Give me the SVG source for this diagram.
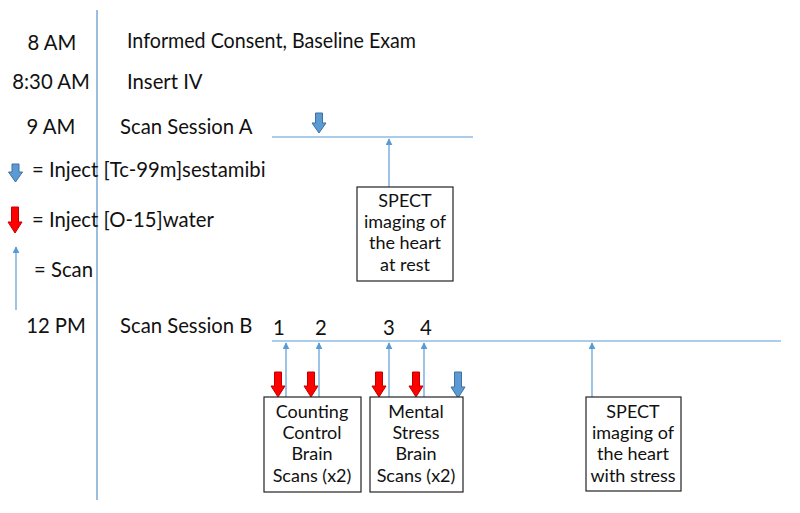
<svg xmlns="http://www.w3.org/2000/svg" width="800" height="513" viewBox="0 0 800 513">
<style>
text{font-family:Lato,"Liberation Sans",sans-serif;font-size:20.3px;fill:#111}
.c{text-anchor:middle}
.bt{font-size:18px}
.tl{stroke:#5B9BD5;stroke-width:1.2;fill:none}
.scan{stroke:#5B9BD5;stroke-width:1.2;fill:none;marker-end:url(#ah)}
.blue{fill:#5B9BD5;stroke:#41719C;stroke-width:1}
.red{fill:#FF0000;stroke:#C00000;stroke-width:1}
.box{fill:#fff;stroke:#222;stroke-width:1.2}
</style>
<defs>
<marker id="ah" viewBox="0 0 10 10" refX="9" refY="5" markerWidth="7" markerHeight="7" markerUnits="userSpaceOnUse" orient="auto">
<path d="M0,0 L10,5 L0,10 Z" fill="#5B9BD5"/>
</marker>
</defs>
<rect width="800" height="513" fill="#fff"/>
<g id="axis"><line x1="97" y1="10" x2="97" y2="500" stroke="#9DBDDF" stroke-width="2"/></g>
<g id="times">
<text x="52" y="50" class="c">8 AM</text>
<text x="51" y="89" class="c">8:30 AM</text>
<text x="51" y="134" class="c">9 AM</text>
<text x="56" y="333" class="c">12 PM</text>
</g>
<g id="events">
<text x="127" y="48" textLength="289" lengthAdjust="spacingAndGlyphs">Informed Consent, Baseline Exam</text>
<text x="127" y="89">Insert IV</text>
<text x="120" y="134">Scan Session A</text>
<text x="120" y="333">Scan Session B</text>
</g>
<g id="legend">
<path class="blue" d="M12,164 H19 V172 H22.5 L15.5,182 L8.5,172 H12 Z"/>
<text x="32" y="177">= Inject [Tc-99m]sestamibi</text>
<path class="red" d="M11.5,207 H18.5 V222 H22 L15,233 L8,222 H11.5 Z"/>
<text x="32" y="227">= Inject [O-15]water</text>
<line class="scan" x1="16" y1="310" x2="16" y2="247"/>
<text x="34" y="277">= Scan</text>
</g>
<g id="timelines">
<line class="tl" x1="272" y1="137" x2="473" y2="137"/>
<line class="tl" x1="272" y1="341" x2="781" y2="341"/>
</g>
<g id="numbers">
<text x="279" y="335" class="c">1</text>
<text x="321" y="335" class="c">2</text>
<text x="389" y="335" class="c">3</text>
<text x="426" y="335" class="c">4</text>
</g>
<g id="injections">
<path class="blue" d="M315.5,113 H322.5 V123 H326 L319,133 L312,123 H315.5 Z"/>
<path class="red" d="M274.5,372 H281.5 V386 H285 L278,397 L271,386 H274.5 Z"/>
<path class="red" d="M307.5,372 H314.5 V386 H318 L311,397 L304,386 H307.5 Z"/>
<path class="red" d="M375.5,372 H382.5 V386 H386 L379,397 L372,386 H375.5 Z"/>
<path class="red" d="M412.5,372 H419.5 V386 H423 L416,397 L409,386 H412.5 Z"/>
<path class="blue" d="M454.5,372 H461.5 V387 H465 L458,398 L451,387 H454.5 Z"/>
</g>
<g id="connectors">
<line class="scan" x1="389" y1="187" x2="389" y2="139"/>
<line class="scan" x1="286" y1="397" x2="286" y2="343"/>
<line class="scan" x1="319" y1="397" x2="319" y2="343"/>
<line class="scan" x1="389" y1="397" x2="389" y2="343"/>
<line class="scan" x1="424" y1="397" x2="424" y2="343"/>
<line class="scan" x1="592" y1="397" x2="592" y2="343"/>
</g>
<g id="box-rest">
<rect class="box" x="357" y="187" width="96" height="94"/>
<text class="c bt" x="405" y="207">SPECT</text>
<text class="c bt" x="405" y="228">imaging of</text>
<text class="c bt" x="405" y="249">the heart</text>
<text class="c bt" x="405" y="271">at rest</text>
</g>
<g id="box-counting">
<rect class="box" x="264" y="397" width="97" height="95"/>
<text class="c bt" x="312" y="418">Counting</text>
<text class="c bt" x="312" y="439">Control</text>
<text class="c bt" x="312" y="460">Brain</text>
<text class="c bt" x="312" y="482">Scans (x2)</text>
</g>
<g id="box-mental">
<rect class="box" x="370" y="397" width="93" height="95"/>
<text class="c bt" x="416" y="418">Mental</text>
<text class="c bt" x="416" y="439">Stress</text>
<text class="c bt" x="416" y="460">Brain</text>
<text class="c bt" x="416" y="482">Scans (x2)</text>
</g>
<g id="box-stress">
<rect class="box" x="586" y="397" width="95" height="94"/>
<text class="c bt" x="633" y="418">SPECT</text>
<text class="c bt" x="633" y="439">imaging of</text>
<text class="c bt" x="633" y="460">the heart</text>
<text class="c bt" x="633" y="482">with stress</text>
</g>
</svg>
